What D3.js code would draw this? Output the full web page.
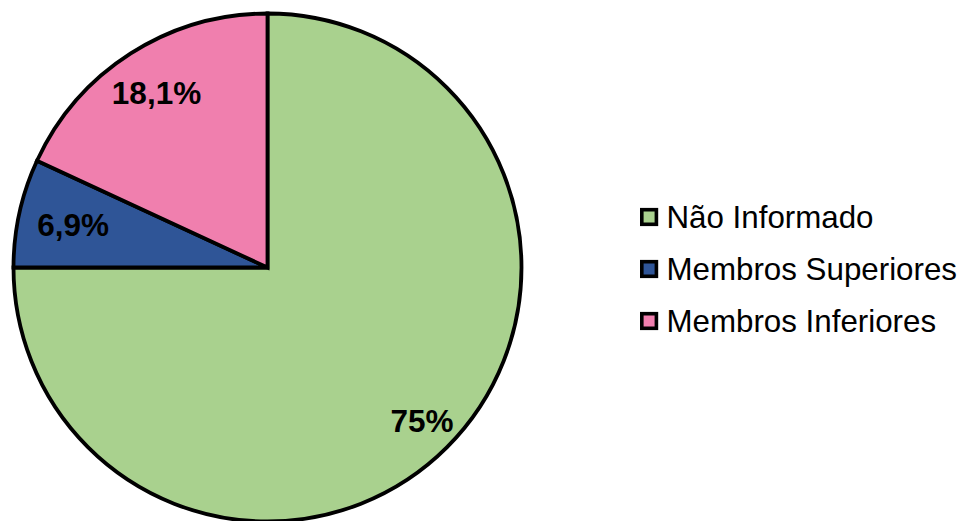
<!DOCTYPE html>
<html><head><meta charset="utf-8">
<script src="https://cdn.jsdelivr.net/npm/d3@7"></script>
<style>body{margin:0;background:#fff}svg{display:block}</style>
</head><body>
<script>
const categories = ["Não Informado", "Membros Superiores", "Membros Inferiores"];
const values = [75, 6.9, 18.1];
const labels = ["75%", "6,9%", "18,1%"];
const colors = ["#A9D18E", "#2F5597", "#F07FAE"];
const labelRadius = [217, 200, 208];

const W = 965, H = 521;
const cx = 267.5, cy = 267.5, R = 254;
const svg = d3.select("body").append("svg").attr("width", W).attr("height", H);
const g = svg.append("g").attr("transform", `translate(${cx},${cy})`);
const data = categories.map((c, i) => ({c, v: values[i], l: labels[i], col: colors[i], lr: labelRadius[i]}));
const pie = d3.pie().value(d => d.v).sort(null);
const arc = d3.arc().innerRadius(0).outerRadius(R);
const arcs = pie(data);
g.selectAll("path").data(arcs).join("path")
  .attr("d", arc).attr("fill", d => d.data.col)
  .attr("stroke", "#000").attr("stroke-width", 3.8).attr("stroke-linejoin", "miter");
g.selectAll("text").data(arcs).join("text")
  .attr("transform", d => {
    const a = (d.startAngle + d.endAngle) / 2;
    return `translate(${Math.sin(a) * d.data.lr + 1},${-Math.cos(a) * d.data.lr})`;
  })
  .attr("text-anchor", "middle").attr("dy", "0.36em")
  .attr("font-family", "'Liberation Sans', Arial, sans-serif")
  .attr("font-weight", "bold").attr("font-size", 31.5)
  .text(d => d.data.l);

const leg = svg.append("g").attr("transform", "translate(640,217)");
const rows = leg.selectAll("g").data(data).join("g").attr("transform", (d, i) => `translate(0,${i * 52})`);
rows.append("rect").attr("x", 1.8).attr("y", -7.3).attr("width", 14.6).attr("height", 14.6)
  .attr("fill", d => d.col).attr("stroke", "#000").attr("stroke-width", 3.6);
rows.append("text").attr("x", 26.5).attr("dy", "0.36em")
  .attr("font-family", "'Liberation Sans', Arial, sans-serif").attr("font-size", 31.3)
  .text(d => d.c);
</script>
</body></html>
